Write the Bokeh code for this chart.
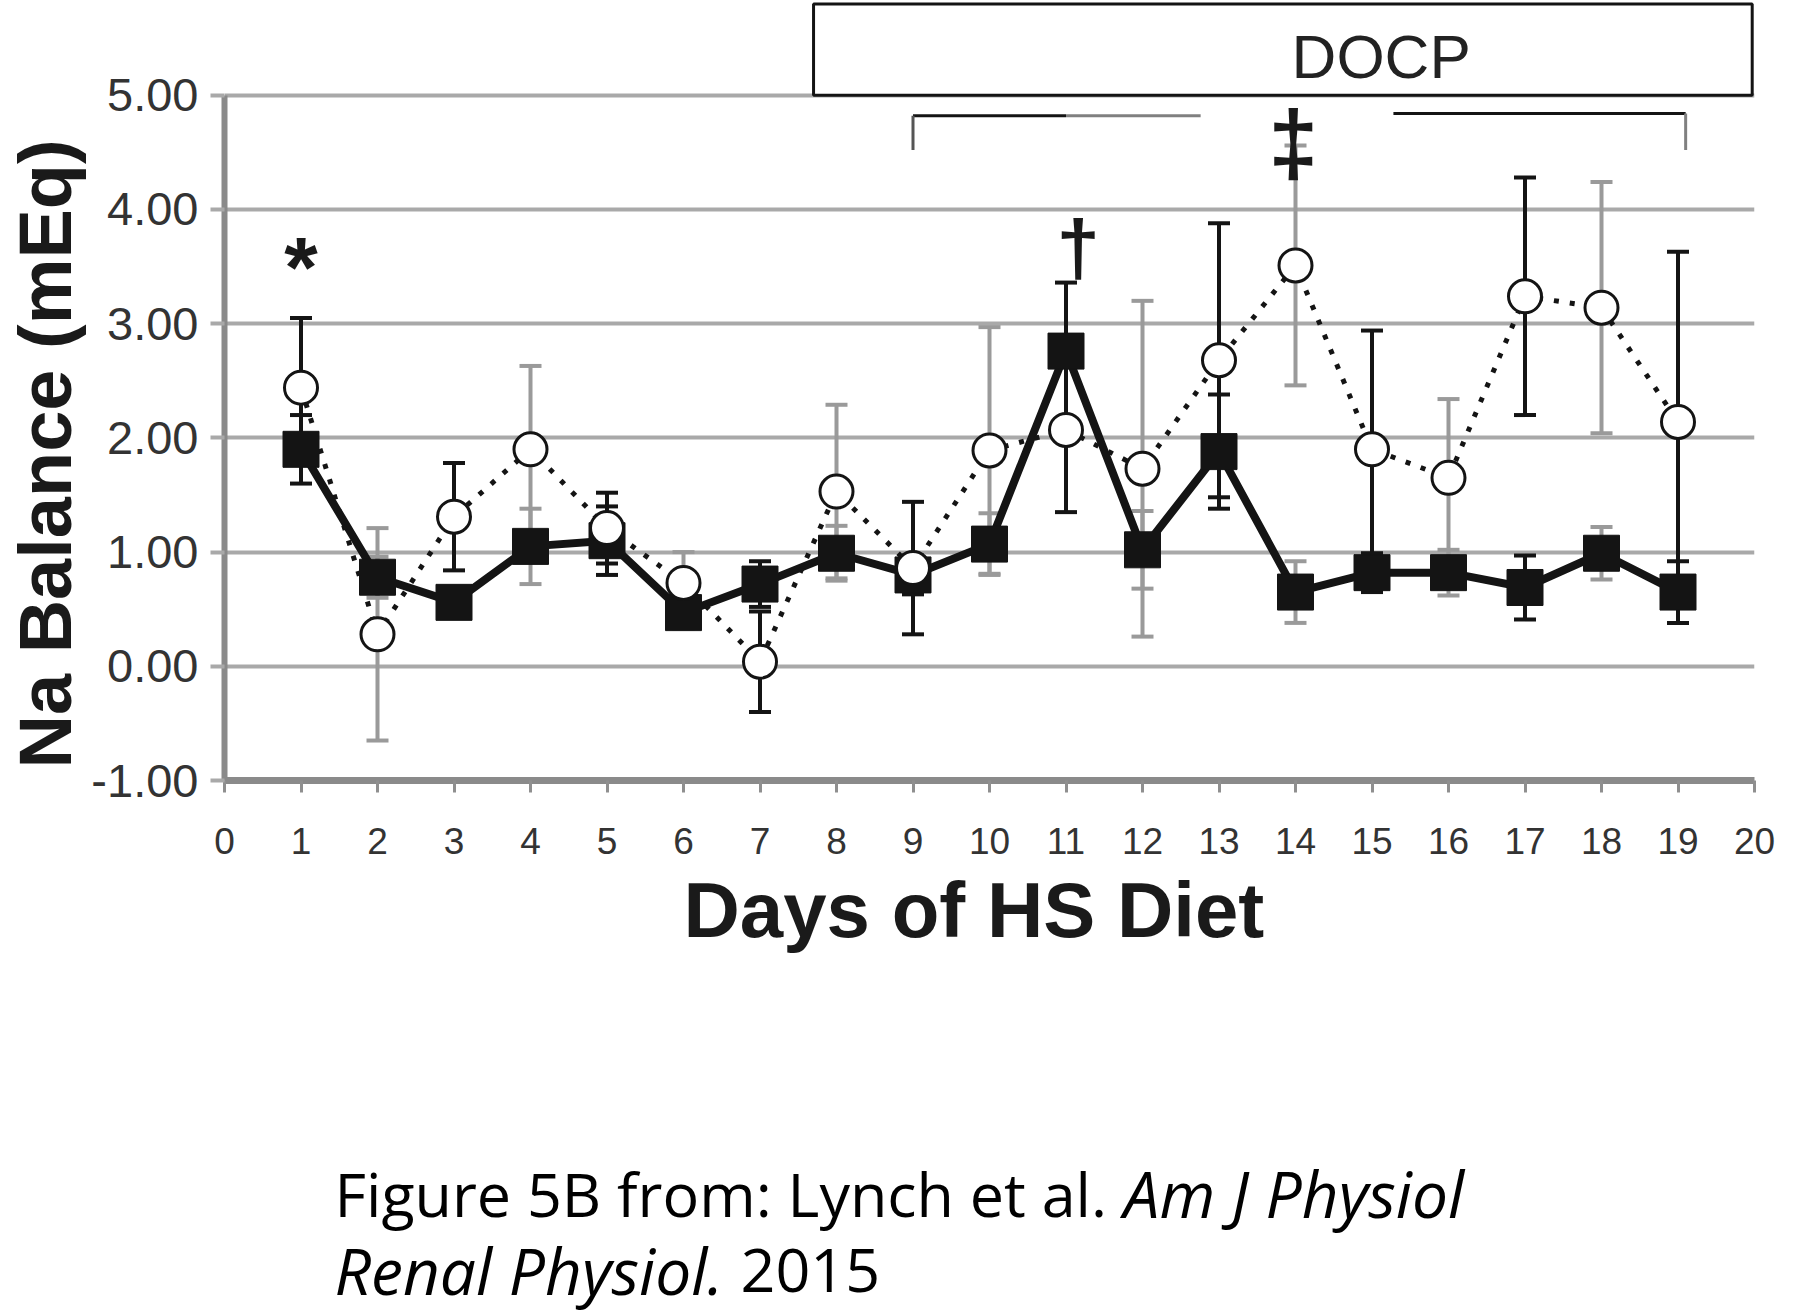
import math
from bokeh.plotting import figure
from bokeh.layouts import column
from bokeh.models import ColumnDataSource, FixedTicker, NumeralTickFormatter, Title, Range1d
from bokeh.core.properties import value
from bokeh.embed import file_html
from bokeh.resources import INLINE

# ---------------- data ----------------
days = list(range(1, 20))
sq_mean = [1.90, 0.78, 0.56, 1.05, 1.10, 0.47, 0.72, 0.99, 0.80, 1.07,
           2.76, 1.02, 1.88, 0.65, 0.82, 0.82, 0.69, 0.99, 0.65]
sq_sem = [0.30, 0.18, 0.06, 0.33, 0.30, 0.14, 0.20, 0.24, 0.17, 0.27,
          0.60, 0.34, 0.50, 0.27, 0.17, 0.20, 0.28, 0.23, 0.27]
ci_mean = [2.44, 0.28, 1.31, 1.90, 1.21, 0.73, 0.04, 1.53, 0.86, 1.89,
           2.07, 1.73, 2.68, 3.51, 1.90, 1.65, 3.24, 3.14, 2.14]
ci_sem = [0.61, 0.93, 0.47, 0.73, 0.31, 0.27, 0.44, 0.76, 0.58, 1.08,
          0.72, 1.47, 1.20, 1.05, 1.04, 0.69, 1.04, 1.10, 1.49]

x_ticks = list(range(0, 21))
y_ticks = [-1, 0, 1, 2, 3, 4, 5]
grid_ticks = [0, 1, 2, 3, 4, 5]

x_label = "Days of HS Diet"
y_label = "Na Balance (mEq)"
docp_text = "DOCP"
docp_span = (7.70, 19.97)          # treatment box, x extent (days)
docp_y = (5.0, 5.80)
docp_text_pos = (15.12, 5.34)
bracket_left = (9.0, 11.0, 12.76)  # start, colour change, end
bracket_right = (15.28, 19.1)
bracket_y = (4.82, 4.84)
bracket_drop = 4.52
sig_marks = [("*", 1.0, 3.50, "86px"), ("\u2020", 11.16, 3.667, "78px"),
             ("\u2021", 13.97, 4.578, "90px")]
caption1_reg = "Figure 5B from: Lynch et al."
caption1_it = "Am J Physiol"
caption2_it = "Renal Physiol."
caption2_reg = "2015"

# ---------------- figure ----------------
FW, FH = 1530, 780
Y0, Y1 = -1.0, 5.830
LEFT, RIGHT, BOTTOM = 224, 30, 200
p = figure(frame_width=FW, frame_height=FH, x_range=(0, 20), y_range=(Y0, Y1),
           min_border_left=LEFT, min_border_right=RIGHT, min_border_top=0,
           min_border_bottom=BOTTOM, output_backend="svg", toolbar_location=None,
           tools="")
p.outline_line_color = None
p.background_fill_color = "white"
p.border_fill_color = "white"

GRID = "#a9a9a9"
AX = "#8a8a8a"
INK = "#141414"
GREY = "#9a9a9a"

p.xgrid.visible = False
p.ygrid.ticker = FixedTicker(ticks=grid_ticks)
p.ygrid.grid_line_color = GRID
p.ygrid.grid_line_width = 4

# y axis
p.yaxis.ticker = FixedTicker(ticks=y_ticks)
p.yaxis.formatter = NumeralTickFormatter(format="0.00")
p.yaxis.bounds = (-1, 5)
p.yaxis.axis_line_color = AX
p.yaxis.axis_line_width = 6
p.yaxis.major_tick_line_color = GRID
p.yaxis.major_tick_line_width = 4
p.yaxis.major_tick_out = 14
p.yaxis.major_tick_in = 0
p.yaxis.minor_tick_line_color = None
p.yaxis.major_label_text_font = "Liberation Sans"
p.yaxis.major_label_text_font_size = "47px"
p.yaxis.major_label_text_color = "#333333"
p.yaxis.major_label_standoff = 12

# x axis
p.xaxis.ticker = FixedTicker(ticks=x_ticks)
p.xaxis.axis_line_color = AX
p.xaxis.axis_line_width = 7
p.xaxis.major_tick_line_color = "#8f8f8f"
p.xaxis.major_tick_line_width = 3
p.xaxis.major_tick_out = 12
p.xaxis.major_tick_in = 0
p.xaxis.minor_tick_line_color = None
p.xaxis.major_label_text_font = "Liberation Sans"
p.xaxis.major_label_text_font_size = "37px"
p.xaxis.major_label_text_color = "#333333"
p.xaxis.major_label_standoff = 35

# axis titles as side titles (so they can be offset like the reference)
p.add_layout(Title(text=x_label, align="left", offset=459,
                   text_font="Liberation Sans", text_font_style="bold",
                   text_font_size="78px", text_color="#1a1a1a", standoff=15), "below")
p.add_layout(Title(text=y_label, align="left", offset=12, vertical_align="top",
                   text_font="Liberation Sans", text_font_style="bold",
                   text_font_size="74px", text_color="#1a1a1a", standoff=0), "left")

# ---------------- error bars ----------------
def bar_colors():
    return [INK if d % 2 == 1 else GREY for d in days]

for mean, sem in ((ci_mean, ci_sem), (sq_mean, sq_sem)):
    lo = [m - s for m, s in zip(mean, sem)]
    hi = [m + s for m, s in zip(mean, sem)]
    src = ColumnDataSource(dict(x=days, lo=lo, hi=hi, c=bar_colors()))
    p.segment(x0="x", y0="lo", x1="x", y1="hi", source=src, line_color="c", line_width=4)
    p.scatter(x="x", y="lo", source=src, marker="dash", size=22, line_color="c", line_width=4)
    p.scatter(x="x", y="hi", source=src, marker="dash", size=22, line_color="c", line_width=4)

# ---------------- lines & markers ----------------
sq_src = ColumnDataSource(dict(x=days, y=sq_mean))
ci_src = ColumnDataSource(dict(x=days, y=ci_mean))
p.line(x="x", y="y", source=sq_src, line_color=INK, line_width=8)
p.line(x="x", y="y", source=ci_src, line_color=INK, line_width=5, line_dash="5 11")
p.scatter(x="x", y="y", source=sq_src, marker="square", size=36,
          fill_color=INK, line_color=INK, line_width=1)
p.scatter(x="x", y="y", source=ci_src, marker="circle", size=33,
          fill_color="white", line_color=INK, line_width=3)

# ---------------- DOCP box & brackets ----------------
p.quad(left=[docp_span[0]], right=[docp_span[1]], bottom=[docp_y[0]], top=[docp_y[1]],
       fill_color="white", line_color=INK, line_width=3)
p.text(x=[docp_text_pos[0]], y=[docp_text_pos[1]], text=[docp_text],
       text_font=value("Liberation Sans"), text_font_size="62px",
       text_color="#222222", text_align="center", text_baseline="alphabetic")

bl0, blm, bl1 = bracket_left
p.segment(x0=[bl0], y0=[bracket_y[0]], x1=[blm], y1=[bracket_y[0]], line_color=INK, line_width=3)
p.segment(x0=[blm], y0=[bracket_y[0]], x1=[bl1], y1=[bracket_y[0]], line_color="#808080", line_width=3)
p.segment(x0=[bl0], y0=[bracket_y[0]], x1=[bl0], y1=[bracket_drop], line_color="#555555", line_width=3)
br0, br1 = bracket_right
p.segment(x0=[br0], y0=[bracket_y[1]], x1=[br1], y1=[bracket_y[1]], line_color=INK, line_width=3)
p.segment(x0=[br1], y0=[bracket_y[1]], x1=[br1], y1=[bracket_drop], line_color="#808080", line_width=3)

for txt, sx, sy, fs in sig_marks:
    p.text(x=[sx], y=[sy], text=[txt], text_font=value("Liberation Sans"),
           text_font_style="bold", text_font_size=fs, text_color="#1a1a1a",
           text_align="center", text_baseline="alphabetic")

# ---------------- caption (separate text panel below, page-pixel x coordinates) ----------------
CH = 333
cap = figure(frame_width=FW, frame_height=CH, x_range=Range1d(LEFT, LEFT + FW),
             y_range=Range1d(CH, 0), min_border_left=LEFT, min_border_right=RIGHT,
             min_border_top=0, min_border_bottom=0, x_axis_type=None, y_axis_type=None,
             output_backend="svg", toolbar_location=None, tools="")
cap.outline_line_color = None
cap.xgrid.visible = False
cap.ygrid.visible = False
cap_font = value("Open Sans")
reg_size, it_size = "61px", "64px"
cap.text(x=[334], y=[213], text=[caption1_reg], text_font=cap_font, text_font_size=reg_size,
         text_color="black", text_align="left", text_baseline="alphabetic")
cap.text(x=[1123], y=[213], text=[caption1_it], text_font=cap_font, text_font_style="italic",
         text_font_size=it_size, text_color="black", text_align="left", text_baseline="alphabetic")
cap.text(x=[334], y=[290], text=[caption2_it], text_font=cap_font, text_font_style="italic",
         text_font_size=it_size, text_color="black", text_align="left", text_baseline="alphabetic")
cap.text(x=[740], y=[290], text=[caption2_reg], text_font=cap_font, text_font_size=reg_size,
         text_color="black", text_align="left", text_baseline="alphabetic")

layout = column(p, cap, spacing=0)
open("out.html", "w").write(file_html(layout, INLINE))
